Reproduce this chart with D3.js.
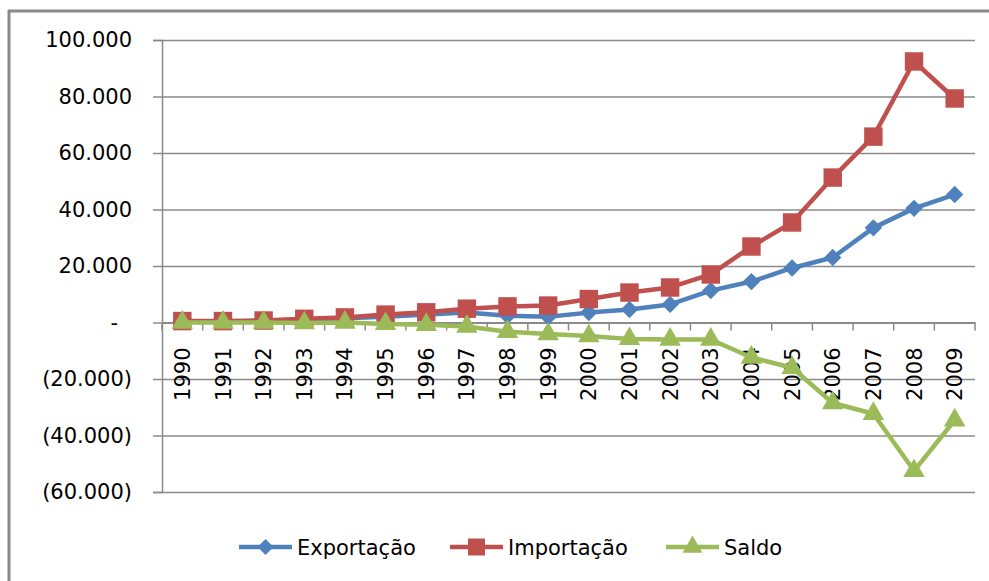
<!DOCTYPE html>
<html>
<head>
<meta charset="utf-8">
<script src="https://cdn.jsdelivr.net/npm/d3@7"></script>
<style>
  html, body { margin: 0; padding: 0; background: #fff; }
  svg { display: block; }
  text { font-family: "DejaVu Sans", sans-serif; fill: #000; }
</style>
</head>
<body>
<svg id="chart" width="989" height="581"></svg>
<script>
const years = ["1990","1991","1992","1993","1994","1995","1996","1997","1998","1999",
               "2000","2001","2002","2003","2004","2005","2006","2007","2008","2009"];
const exportacao = [300, 300, 700, 1000, 1500, 2000, 2800, 3500, 2400, 2000,
                    3500, 4600, 6400, 11300, 14500, 19300, 23000, 33500, 40400, 45300];
const importacao = [500, 500, 700, 1300, 1800, 2800, 3600, 4900, 5700, 6000,
                    8300, 10600, 12400, 17000, 26900, 35400, 51300, 65800, 92400, 79300];
const saldo = [0, 0, 0, -200, 0, -500, -800, -1400, -3300, -4100,
               -4800, -5800, -6000, -6000, -12400, -16000, -28500, -32300, -52500, -34600];
const yTicks = [-60000, -40000, -20000, 0, 20000, 40000, 60000, 80000, 100000];
const seriesNames = ["Exportação", "Importação", "Saldo"];
const seriesColors = ["#4F81BD", "#C0504D", "#9BBB59"];
const seriesData = [exportacao, importacao, saldo];

// equal-axis diamond (rotated square)
const squareDiamond = {
  draw(ctx, size) {
    const r = Math.sqrt(size / 2);
    ctx.moveTo(0, -r); ctx.lineTo(r, 0); ctx.lineTo(0, r); ctx.lineTo(-r, 0); ctx.closePath();
  }
};
const seriesSymbols = [squareDiamond, d3.symbolSquare, d3.symbolTriangle];
const symbolSizes = [150, 340, 200];

const svg = d3.select("#chart");

// outer border (left and top)
svg.append("line").attr("x1", 9).attr("x2", 9).attr("y1", 10).attr("y2", 581)
  .attr("stroke", "#8a8a8a").attr("stroke-width", 3);
svg.append("line").attr("x1", 8).attr("x2", 989).attr("y1", 11).attr("y2", 11)
  .attr("stroke", "#8a8a8a").attr("stroke-width", 3);

const plotL = 162, plotR = 975;
const x = d3.scaleBand().domain(years).range([plotL, plotR]);
const y = d3.scaleLinear().domain([-60000, 100000]).range([492, 40]);

const fmt = v => {
  if (v === 0) return "-";
  const s = d3.format(",")(Math.abs(v)).replace(/,/g, ".");
  return v < 0 ? "(" + s + ")" : s;
};

// gridlines
const grid = svg.append("g").attr("transform", `translate(${plotL},0)`)
  .call(d3.axisLeft(y).tickValues(yTicks).tickSize(-(plotR - plotL)).tickFormat(""));
grid.select(".domain").remove();
grid.selectAll("line").attr("stroke", "#8a8a8a").attr("stroke-width", 1.5);

// y axis
const yAxis = svg.append("g").attr("transform", `translate(${plotL},0)`)
  .call(d3.axisLeft(y).tickValues(yTicks).tickSize(9).tickPadding(21).tickFormat(fmt));
yAxis.select(".domain").attr("stroke", "#8a8a8a").attr("stroke-width", 1.5);
yAxis.selectAll(".tick line").attr("stroke", "#8a8a8a").attr("stroke-width", 1.5);
yAxis.selectAll(".tick text").style("font-size", "21px")
  .style("font-family", "DejaVu Sans, sans-serif").attr("fill", "#000")
  .attr("dx", d => d === 0 ? -14 : 0);

// x axis at zero
const x0 = y(0);
const xAxis = svg.append("g").attr("transform", `translate(0,${x0})`)
  .call(d3.axisBottom(x).tickSize(0).tickPadding(0));
xAxis.select(".domain").attr("stroke", "#8a8a8a").attr("stroke-width", 2);
xAxis.selectAll(".tick text")
  .style("font-size", "21px").style("font-family", "DejaVu Sans, sans-serif")
  .attr("fill", "#000")
  .attr("text-anchor", "end")
  .attr("transform", "rotate(-90)")
  .attr("x", -25).attr("y", 0).attr("dy", "0.36em");
// tick marks at category boundaries
const bounds = years.map(d => x(d)).concat([plotR]);
svg.append("g").selectAll("line").data(bounds).join("line")
  .attr("x1", d => d).attr("x2", d => d).attr("y1", x0).attr("y2", x0 + 8)
  .attr("stroke", "#8a8a8a").attr("stroke-width", 1.5);

// series
const cx = d => x(d) + x.bandwidth() / 2;
seriesData.forEach((data, i) => {
  const pts = years.map((yr, j) => [cx(yr), y(data[j])]);
  svg.append("path").datum(pts)
    .attr("d", d3.line())
    .attr("fill", "none").attr("stroke", seriesColors[i]).attr("stroke-width", 4.5)
    .attr("stroke-linejoin", "round");
  svg.append("g").selectAll("path").data(pts).join("path")
    .attr("d", d3.symbol().type(seriesSymbols[i]).size(symbolSizes[i]))
    .attr("transform", d => `translate(${d[0]},${d[1]})`)
    .attr("fill", seriesColors[i]);
});

// legend
const legendY = 547;
const legendX = [239, 450, 666];
seriesNames.forEach((name, i) => {
  const g = svg.append("g").attr("transform", `translate(${legendX[i]},${legendY})`);
  g.append("line").attr("x1", 0).attr("x2", 53).attr("y1", 0).attr("y2", 0)
    .attr("stroke", seriesColors[i]).attr("stroke-width", 4.5);
  g.append("path").attr("d", d3.symbol().type(seriesSymbols[i]).size(symbolSizes[i] * 0.85))
    .attr("transform", "translate(26.5,0)").attr("fill", seriesColors[i]);
  g.append("text").attr("x", 58).attr("y", 0).attr("dy", "0.36em")
    .style("font-size", "21px").text(name);
});
</script>
</body>
</html>
